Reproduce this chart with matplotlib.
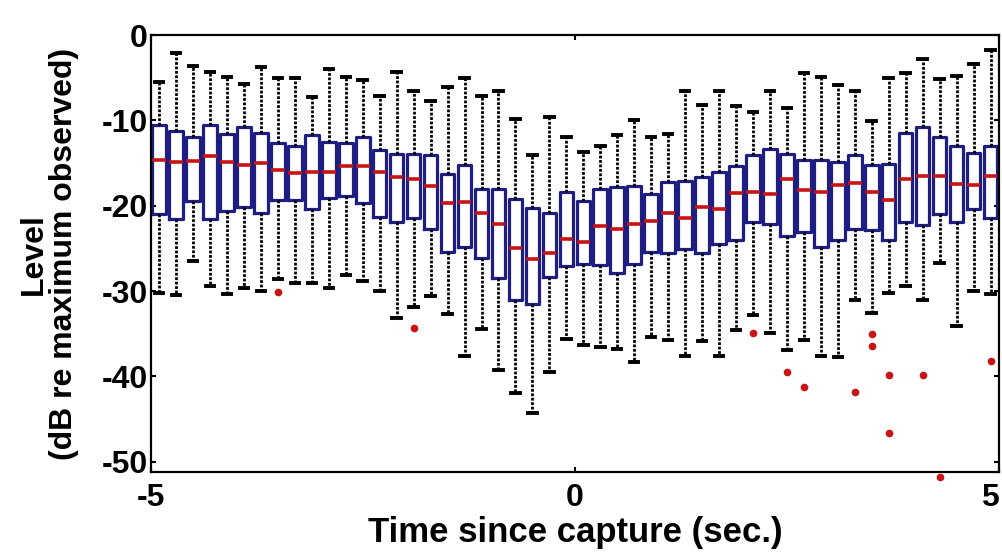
import numpy as np
import matplotlib
matplotlib.use('Agg')
import matplotlib.pyplot as plt

plt.rcParams['font.family'] = ['Liberation Sans', 'DejaVu Sans']
plt.rcParams['axes.unicode_minus'] = False

# time bin centres (sec.)
times = np.linspace(-4.9, 4.9, 50)

# box statistics (dB re maximum observed)
whisker_hi = [-5.5, -2.1, -3.6, -4.3, -4.9, -5.7, -3.7, -5.0, -5.0, -7.3,
              -4.0, -4.9, -5.3, -7.2, -4.3, -6.6, -7.7, -6.1, -5.0, -7.1,
              -6.6, -9.8, -14.1, -9.6, -11.9, -13.7, -13.0, -11.7, -10.0, -12.0,
              -11.6, -6.6, -8.2, -6.6, -8.3, -9.0, -6.6, -8.5, -4.4, -4.9,
              -5.8, -6.6, -10.1, -5.0, -4.4, -2.85, -5.2, -4.8, -3.4, -1.7]
q3 = [-10.55, -11.3, -11.9, -10.55, -11.6, -10.8, -11.5, -12.7, -13.0, -11.7,
      -12.5, -12.6, -12.0, -13.5, -13.9, -13.9, -14.1, -16.3, -15.2, -18.0,
      -18.0, -19.2, -20.3, -20.8, -18.4, -19.5, -18.1, -17.8, -17.7, -18.6,
      -17.2, -17.1, -16.6, -16.0, -15.3, -14.1, -13.3, -13.9, -14.6, -14.6,
      -14.85, -14.1, -15.2, -15.1, -11.5, -10.8, -11.9, -13.0, -13.8, -13.0]
median = [-14.6, -14.9, -14.8, -14.2, -14.85, -15.2, -15.0, -15.8, -16.2, -16.0,
          -16.0, -15.4, -15.3, -16.0, -16.6, -16.9, -17.7, -19.7, -19.6, -20.9,
          -22.2, -25.0, -26.3, -25.6, -23.9, -24.2, -22.4, -22.7, -22.1, -21.8,
          -20.8, -21.5, -20.2, -20.4, -18.5, -18.4, -18.6, -16.9, -18.2, -18.4,
          -17.6, -17.3, -18.4, -19.3, -16.9, -16.5, -16.5, -17.5, -17.6, -16.5]
q1 = [-21.0, -21.6, -19.5, -21.6, -20.6, -20.2, -20.9, -19.3, -19.3, -20.4,
      -19.1, -18.9, -19.7, -21.3, -21.9, -21.5, -22.7, -25.4, -24.9, -26.1,
      -28.5, -31.0, -31.5, -28.4, -27.1, -26.8, -26.9, -27.9, -26.8, -25.4,
      -25.6, -25.1, -25.5, -24.5, -24.0, -21.9, -22.2, -23.6, -23.1, -24.9,
      -24.0, -22.7, -22.9, -24.0, -21.9, -22.3, -21.0, -21.9, -20.4, -21.4]
whisker_lo = [-30.2, -30.5, -26.5, -29.4, -30.4, -29.6, -30.0, -28.6, -29.1, -29.1,
              -29.6, -28.1, -28.8, -30.0, -33.2, -31.9, -30.6, -32.7, -37.6, -34.5,
              -39.2, -41.9, -44.3, -39.5, -35.6, -36.3, -36.6, -36.8, -38.3, -35.4,
              -35.7, -37.6, -35.9, -37.6, -34.6, -32.8, -34.9, -36.9, -35.7, -37.6,
              -37.7, -31.1, -32.6, -30.2, -29.4, -31.0, -26.7, -34.1, -30.0, -30.4]

# outliers: box index and level
outlier_box = [7, 15, 35, 37, 38, 41, 42, 42, 43, 43, 45, 46, 49]
outlier_val = [-30.1, -34.3, -34.9, -39.5, -41.2, -41.8, -35.0, -36.5,
               -39.8, -46.7, -39.8, -51.8, -38.2]

stats = []
for i in range(len(times)):
    stats.append({
        'whislo': whisker_lo[i], 'q1': q1[i], 'med': median[i],
        'q3': q3[i], 'whishi': whisker_hi[i],
        'fliers': [v for b, v in zip(outlier_box, outlier_val) if b == i],
    })

fig = plt.figure(figsize=(10.03, 5.56), dpi=100)
ax = fig.add_axes([0.1502, 0.1505, 0.8458, 0.7865])

bp = ax.bxp(stats, positions=times, widths=0.16, capwidths=0.1,
            showfliers=True, manage_ticks=False,
            boxprops=dict(color='#1e1e82', linewidth=2.3),
            medianprops=dict(color='#c81414', linewidth=2.6),
            whiskerprops=dict(color='black', linewidth=2.0, linestyle=(0, (1.0, 0.6))),
            capprops=dict(color='black', linewidth=2.8),
            flierprops=dict(marker='o', markerfacecolor='#c81414',
                            markeredgecolor='#c81414', markersize=4.5))
# the lowest outlier sits on the bottom spine in the original
for fl in bp['fliers']:
    fl.set_clip_on(False)

ax.set_xlim(-5, 5)
ax.set_ylim(-51.25, 0)
ax.set_xticks([-5, 0, 5])
ax.set_yticks([0, -10, -20, -30, -40, -50])

for s in ax.spines.values():
    s.set_linewidth(1.6)
ax.tick_params(direction='in', length=3.8, width=1.5, top=True, right=True,
               labelsize=23)
ax.tick_params(axis='x', pad=8)
ax.tick_params(axis='y', pad=2)
for lab in ax.get_xticklabels() + ax.get_yticklabels():
    lab.set_fontweight('bold')
ax.get_xticklabels()[-1].set_horizontalalignment('right')

ax.set_xlabel('Time since capture (sec.)', fontsize=25, fontweight='bold')
ax.xaxis.set_label_coords(0.5, -0.1)
ax.set_ylabel('Level\n(dB re maximum observed)', fontsize=23,
              fontweight='bold', linespacing=1.0)
ax.yaxis.set_label_coords(-0.085, 0.5)

fig.savefig('out.png', dpi=100)
